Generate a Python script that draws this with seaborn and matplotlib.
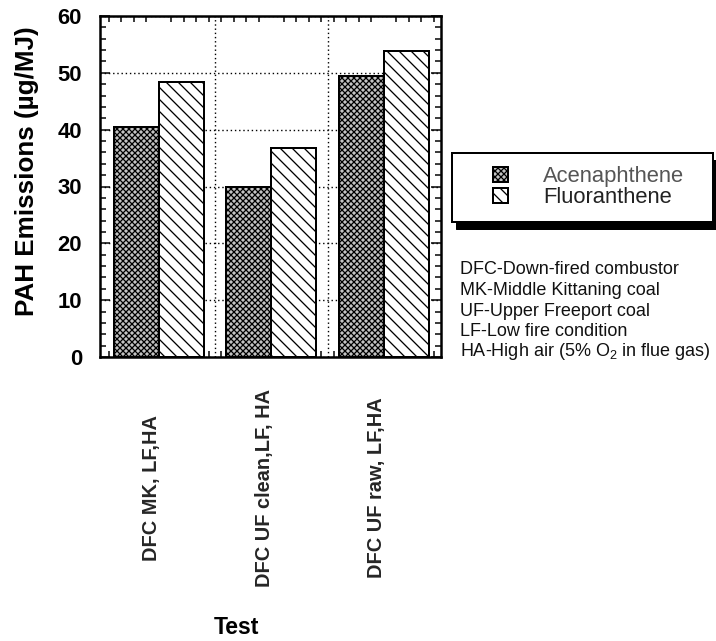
import matplotlib
matplotlib.use("Agg")
import matplotlib.pyplot as plt
from matplotlib.patches import Patch, Rectangle
from matplotlib.ticker import MultipleLocator
from matplotlib.transforms import ScaledTranslation
import seaborn as sns
import pandas as pd

# ---- data ----
tests = ["DFC MK, LF,HA", "DFC UF clean,LF, HA", "DFC UF raw, LF,HA"]
compounds = ["Acenaphthene", "Fluoranthene"]
acenaphthene = [40.5, 30.0, 49.5]
fluoranthene = [48.3, 36.8, 53.8]
yticks = [0, 10, 20, 30, 40, 50, 60]
notes = [
    "DFC-Down-fired combustor",
    "MK-Middle Kittaning coal",
    "UF-Upper Freeport coal",
    "LF-Low fire condition",
    "HA-High air (5% O$_2$ in flue gas)",
]

df = pd.DataFrame({
    "Test": tests * 2,
    "Compound": [compounds[0]] * 3 + [compounds[1]] * 3,
    "Value": acenaphthene + fluoranthene,
})

sns.set_theme(style="white")
plt.rcParams["font.family"] = ["Liberation Sans", "DejaVu Sans"]
plt.rcParams["mathtext.fontset"] = "custom"
plt.rcParams["mathtext.rm"] = "Liberation Sans"
plt.rcParams["mathtext.it"] = "Liberation Sans:italic"
plt.rcParams["mathtext.default"] = "regular"
plt.rcParams["hatch.linewidth"] = 1.3
plt.rcParams["hatch.color"] = "black"

W, H, DPI = 716, 641, 72
fig = plt.figure(figsize=(W / DPI, H / DPI), dpi=DPI)
fig.patch.set_facecolor("white")

def fx(px):
    return px / W

def fy(py):
    return 1 - py / H

ax = fig.add_axes([fx(100), fy(357), 341 / W, 341 / H])

styles = {
    "Acenaphthene": dict(facecolor="#c4c4c4", hatch="xxxx"),
    "Fluoranthene": dict(facecolor="white", hatch="\\\\"),
}

sns.barplot(data=df, x="Test", y="Value", hue="Compound", hue_order=compounds,
            order=tests, width=0.8, saturation=1, ax=ax, legend=False,
            edgecolor="black", linewidth=2, zorder=3)

for cont, comp in zip(ax.containers, compounds):
    for bar in cont:
        bar.set_facecolor(styles[comp]["facecolor"])
        bar.set_hatch(styles[comp]["hatch"])
        bar.set_edgecolor("black")
        bar.set_linewidth(2)

ax.set_xlim(-0.524, 2.507)
ax.set_ylim(0, 60)
ax.set_yticks(yticks)
ax.set_yticklabels([str(v) for v in yticks])
ax.yaxis.set_minor_locator(MultipleLocator(2))
ax.xaxis.set_minor_locator(MultipleLocator(1 / 9))

# grid
ax.set_axisbelow(True)
ax.yaxis.grid(True, which="major", color="black", linestyle=(0, (1, 2)), linewidth=1.4)
ax.xaxis.grid(False)
for b in [0.5, 1.5]:
    ax.axvline(b, color="black", linestyle=(0, (1, 2)), linewidth=1.4, zorder=1)

for sp in ax.spines.values():
    sp.set_linewidth(2.5)
    sp.set_color("black")
    sp.set_visible(True)

ax.tick_params(axis="y", which="both", direction="in", left=True, right=True,
               width=1.5, colors="black")
ax.tick_params(axis="y", which="major", length=10, pad=18, labelsize=22)
ax.tick_params(axis="y", which="minor", length=6)
ax.tick_params(axis="x", which="major", length=0, pad=131, labelsize=20)
ax.tick_params(axis="x", which="minor", direction="in", top=True, bottom=True,
               length=6, width=1.5, colors="black")
for lab in ax.get_yticklabels():
    lab.set_fontweight("bold")
off = ScaledTranslation(-7 / DPI, 0, fig.dpi_scale_trans)
for lab in ax.get_xticklabels():
    lab.set_fontweight("bold")
    lab.set_rotation(90)
    lab.set_va("center")
    lab.set_ha("center")
    lab.set_transform(lab.get_transform() + off)

ax.set_ylabel("PAH Emissions (µg/MJ)", fontsize=26, fontweight="bold", color="black")
ax.yaxis.label.set_va("center")
ax.yaxis.set_label_coords((27 - 100) / 341, (357 - 171) / 341)
ax.set_xlabel("Test", fontsize=23, fontweight="bold", color="black")
ax.xaxis.label.set_va("center")
ax.xaxis.set_label_coords((236 - 100) / 341, (357 - 627) / 341)

# legend box with shadow
shadow = Rectangle((fx(456), fy(229)), (713 - 452) / W, (229 - 160) / H,
                   transform=fig.transFigure, facecolor="black", edgecolor="black",
                   zorder=5)
box = Rectangle((fx(452), fy(222)), (713 - 452) / W, (222 - 153) / H,
                transform=fig.transFigure, facecolor="white", edgecolor="black",
                linewidth=2, zorder=6)
fig.patches.extend([shadow, box])

handles = [Patch(facecolor=styles[c]["facecolor"], hatch=styles[c]["hatch"],
                 edgecolor="black", linewidth=2) for c in compounds]
leg = fig.legend(handles, compounds, loc="upper left",
                 bbox_to_anchor=(fx(493), fy(166)), frameon=False, fontsize=22,
                 handlelength=0.68, handleheight=0.68, handletextpad=1.6,
                 labelspacing=0.0, borderpad=0, borderaxespad=0)
leg.set_zorder(7)
for t, col in zip(leg.get_texts(), ["#555555", "#222222"]):
    t.set_color(col)

note_y = [270, 290.5, 311, 331, 351]
for txt, yy in zip(notes, note_y):
    fig.text(fx(460), fy(yy), txt, fontsize=18, va="center", ha="left", color="#111111")

fig.savefig("out.png", dpi=DPI, facecolor="white")
